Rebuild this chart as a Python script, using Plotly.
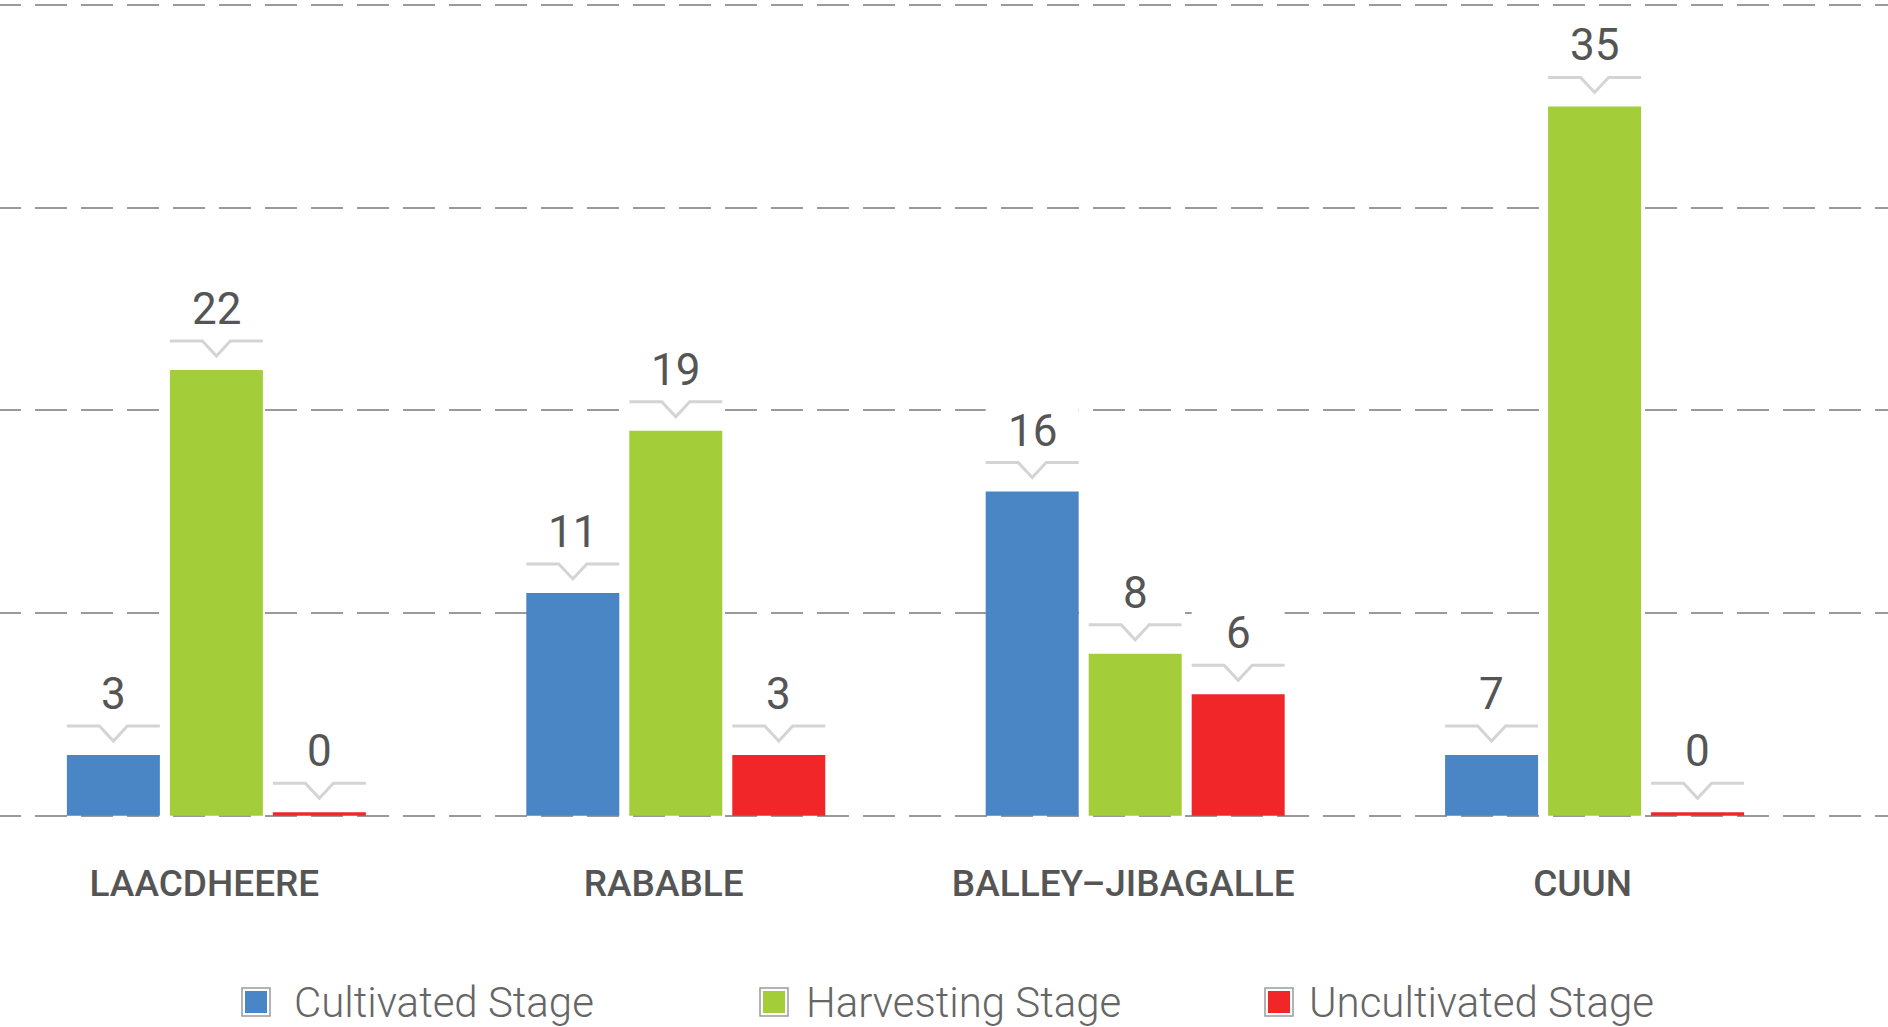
import plotly.graph_objects as go

# ---------------- data ----------------
categories = ["LAACDHEERE", "RABABLE", "BALLEY\u2013JIBAGALLE", "CUUN"]
series_names = ["Cultivated Stage", "Harvesting Stage", "Uncultivated Stage"]

# values printed above the bars
cultivated_labels = [3, 11, 16, 7]
harvesting_labels = [22, 19, 8, 35]
uncultivated_labels = [0, 3, 6, 0]

# bar heights as drawn in the picture (the "7" bar is drawn at the height of 3,
# zero values are drawn as thin stubs)
cultivated_heights = [3, 11, 16, 3]
harvesting_heights = [22, 19, 8, 35]
uncultivated_heights = [0.18, 3, 6, 0.18]

y_ticks = [0, 10, 20, 30, 40]

# ---------------- style ----------------
colors = ["#4A86C5", "#A3CD39", "#F02629"]
text_color = "#555555"
W, H = 1888, 1027
plot_bottom_px = 826          # bottom edge of plot area (pixels from top)
bargap = 0.3274
bargroupgap = 0.0971
bar_px = 93
x_range = [-0.471, 3.6387]
y_range = [-0.5, 40.25]

heights = [cultivated_heights, harvesting_heights, uncultivated_heights]
labels = [cultivated_labels, harvesting_labels, uncultivated_labels]

fig = go.Figure()
for name, h, c in zip(series_names, heights, colors):
    fig.add_trace(go.Bar(x=categories, y=h, name=name, marker=dict(color=c, line=dict(width=0)),
                         showlegend=False, hoverinfo="skip"))

slot = (1 - bargap) / len(series_names)
shapes = []
annotations = []
for j, (h_list, l_list) in enumerate(zip(heights, labels)):
    off = (j - (len(series_names) - 1) / 2) * slot
    for i, (h, lab) in enumerate(zip(h_list, l_list)):
        xc = i + off
        # white backing that hides gridlines behind the label
        shapes.append(dict(type="rect", xref="x", yref="y", xsizemode="pixel", ysizemode="pixel",
                           xanchor=xc, yanchor=h, x0=-bar_px / 2, x1=bar_px / 2, y0=0, y1=84,
                           fillcolor="white", line=dict(width=0), layer="between"))
        # callout line with V notch
        shapes.append(dict(type="path", xref="x", yref="y", xsizemode="pixel", ysizemode="pixel",
                           xanchor=xc, yanchor=h,
                           path="M-46.5,29 L-14,29 L0,14 L14,29 L46.5,29",
                           line=dict(color="#D4D4D4", width=3), layer="above"))
        annotations.append(dict(x=xc, y=h, xref="x", yref="y", text=str(lab), showarrow=False,
                                yanchor="bottom", xanchor="center", yshift=33,
                                font=dict(family="Roboto", size=44, color=text_color)))


def px_x(p):
    return p / W


def px_y(p):
    return (plot_bottom_px - p) / plot_bottom_px


# manual legend
legend_sq_left = [242, 760, 1265]
legend_text_left = [292, 804, 1307]
legend_cy = 1002
sq = 28
for name, c, sl, tl in zip(series_names, colors, legend_sq_left, legend_text_left):
    shapes.append(dict(type="rect", xref="paper", yref="paper",
                       x0=px_x(sl), x1=px_x(sl + sq), y0=px_y(legend_cy + sq / 2), y1=px_y(legend_cy - sq / 2),
                       fillcolor="white", line=dict(color="#9A9A9A", width=1.5), layer="above"))
    shapes.append(dict(type="rect", xref="paper", yref="paper",
                       x0=px_x(sl + 3), x1=px_x(sl + sq - 3), y0=px_y(legend_cy + sq / 2 - 3),
                       y1=px_y(legend_cy - sq / 2 + 3),
                       fillcolor=c, line=dict(width=0), layer="above"))
    annotations.append(dict(x=px_x(tl), y=px_y(legend_cy), xref="paper", yref="paper", text=name,
                            showarrow=False, xanchor="left", yanchor="middle",
                            font=dict(family="Roboto", size=42, color="#666666", weight=300)))

fig.update_layout(
    width=W, height=H,
    margin=dict(l=0, r=0, t=0, b=H - plot_bottom_px, pad=0),
    paper_bgcolor="white", plot_bgcolor="white",
    barmode="group", bargap=bargap, bargroupgap=bargroupgap,
    shapes=shapes, annotations=annotations,
    showlegend=False,
    xaxis=dict(type="category", range=x_range, showgrid=False, showline=False, zeroline=False,
               ticks="", ticklabelstandoff=32, ticklabelshift=-12,
               tickfont=dict(family="Roboto", size=37, color=text_color, weight=500)),
    yaxis=dict(range=y_range, tickvals=y_ticks, showticklabels=False, showgrid=True,
               gridcolor="#9A9A9A", gridwidth=1.5, griddash="21px,14px,11px,0px",
               zeroline=False, showline=False),
)

fig.write_html("out.html", config={"displayModeBar": False},
               post_script="document.body.style.margin='0';document.body.style.overflow='hidden';")
